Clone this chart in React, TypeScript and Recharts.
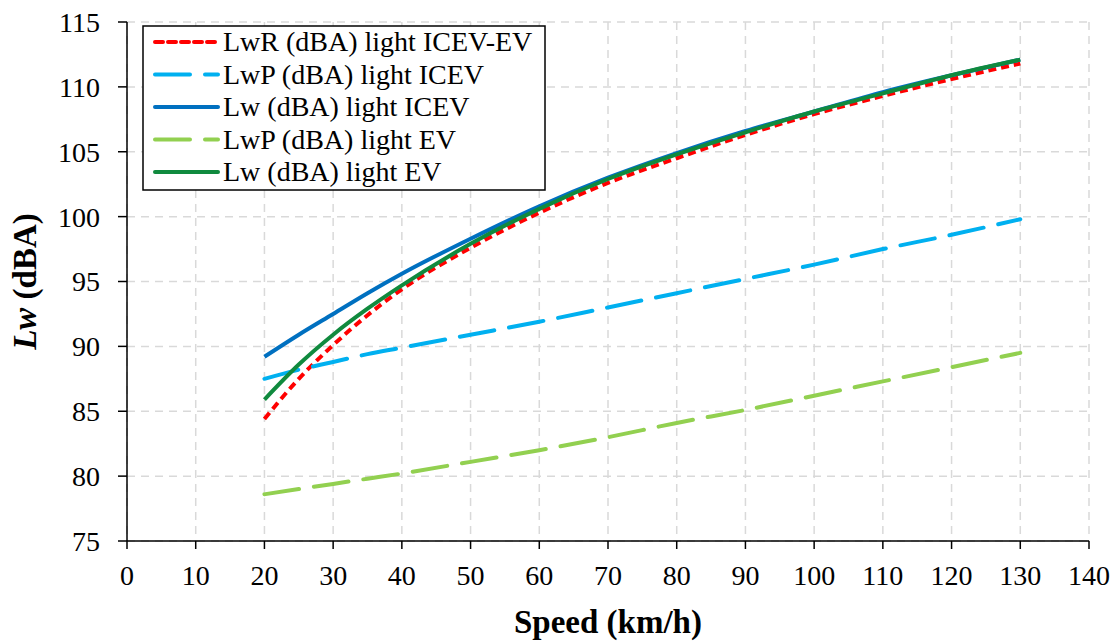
import { LineChart, Line, XAxis, YAxis, CartesianGrid, Label } from "recharts";

const speeds = [20, 25, 30, 35, 40, 50, 60, 70, 80, 90, 100, 110, 120, 130];
const lwrIcevEv = [84.4, 87.5, 90.1, 92.4, 94.4, 97.6, 100.3, 102.6, 104.5, 106.3, 107.9, 109.3, 110.6, 111.8];
const lwpIcev = [87.5, 88.2, 88.8, 89.4, 89.9, 90.9, 91.9, 93.0, 94.1, 95.2, 96.3, 97.5, 98.6, 99.8];
const lwIcev = [89.2, 90.9, 92.5, 94.1, 95.6, 98.3, 100.8, 103.0, 104.9, 106.6, 108.1, 109.6, 110.9, 112.1];
const lwpEv = [78.6, 79.0, 79.4, 79.8, 80.2, 81.1, 82.0, 83.0, 84.1, 85.1, 86.2, 87.3, 88.4, 89.5];
const lwEv = [85.9, 88.6, 90.9, 92.9, 94.7, 97.9, 100.6, 102.9, 104.8, 106.5, 108.1, 109.5, 110.9, 112.1];

const xTicks = [0, 10, 20, 30, 40, 50, 60, 70, 80, 90, 100, 110, 120, 130, 140];
const yTicks = [75, 80, 85, 90, 95, 100, 105, 110, 115];

const data = speeds.map((s, i) => ({
  speed: s,
  lwr: lwrIcevEv[i],
  lwpIcev: lwpIcev[i],
  lwIcev: lwIcev[i],
  lwpEv: lwpEv[i],
  lwEv: lwEv[i],
}));

const FONT = "'Liberation Serif', 'Times New Roman', serif";

const legendItems = [
  { label: "LwR (dBA) light ICEV-EV", color: "#ff0000", dash: "8 5" },
  { label: "LwP (dBA) light ICEV", color: "#00b0f0", dash: "35 15" },
  { label: "Lw (dBA) light ICEV", color: "#0070c0", dash: undefined },
  { label: "LwP (dBA) light EV", color: "#92d050", dash: "35 15" },
  { label: "Lw (dBA) light EV", color: "#108a3e", dash: undefined },
];

function LegendBox() {
  return (
    <svg width={404} height={166} style={{ display: "block" }}>
      <rect x={1} y={1} width={402} height={164} fill="#fff" stroke="#000" strokeWidth={1.5} />
      {legendItems.map((it, i) => {
        const y = 17 + i * 32.5;
        return (
          <g key={it.label}>
            <line x1={13} x2={76} y1={y} y2={y} stroke={it.color} strokeWidth={4} strokeDasharray={it.dash} strokeLinecap="round" />
            <text x={81} y={y + 9} fontFamily={FONT} fontSize={28} fill="#000">
              {it.label}
            </text>
          </g>
        );
      })}
    </svg>
  );
}

function YTitle(props: any) {
  const vb = props.viewBox || {};
  const cx = 25;
  const cy = vb.y + vb.height / 2;
  return (
    <text
      x={cx}
      y={cy}
      transform={`rotate(-90 ${cx} ${cy})`}
      textAnchor="middle"
      dominantBaseline="central"
      fontFamily={FONT}
      fontSize={33}
      fontWeight="bold"
      fill="#000"
    >
      <tspan fontStyle="italic">Lw</tspan>
      <tspan> (dBA)</tspan>
    </text>
  );
}

export default function App() {
  return (
    <div style={{ position: "absolute", left: 0, top: 0, width: 1119, height: 643, background: "#fff" }}>
      <LineChart width={1119} height={643} data={data} margin={{ top: 22, right: 30, bottom: 0, left: 27 }}>
        <CartesianGrid stroke="#d9d9d9" strokeWidth={1.5} strokeDasharray="8 6" />
        <XAxis
          dataKey="speed"
          type="number"
          domain={[0, 140]}
          ticks={xTicks}
          interval={0}
          stroke="#000"
          strokeWidth={1.5}
          tickSize={8}
          tick={{ fill: "#000", fontSize: 28, fontFamily: FONT }}
          tickMargin={16}
          height={102}
        >
          <Label
            value="Speed (km/h)"
            position="insideBottom"
            offset={10}
            style={{ fill: "#000", fontSize: 33, fontWeight: "bold", fontFamily: FONT }}
          />
        </XAxis>
        <YAxis
          type="number"
          domain={[75, 115]}
          ticks={yTicks}
          interval={0}
          stroke="#000"
          strokeWidth={1.5}
          tickSize={9}
          tickMargin={18}
          tick={{ fill: "#000", fontSize: 28, fontFamily: FONT }}
          width={100}
          label={<YTitle />}
        />
        <Line dataKey="lwr" type="monotone" stroke="#ff0000" strokeWidth={4} strokeDasharray="8 5" dot={false} isAnimationActive={false} />
        <Line dataKey="lwpIcev" type="monotone" stroke="#00b0f0" strokeWidth={4} strokeDasharray="35 15" strokeLinecap="round" dot={false} isAnimationActive={false} />
        <Line dataKey="lwIcev" type="monotone" stroke="#0070c0" strokeWidth={4} dot={false} isAnimationActive={false} />
        <Line dataKey="lwpEv" type="monotone" stroke="#92d050" strokeWidth={4} strokeDasharray="35 15" strokeLinecap="round" dot={false} isAnimationActive={false} />
        <Line dataKey="lwEv" type="monotone" stroke="#108a3e" strokeWidth={4} dot={false} isAnimationActive={false} />
      </LineChart>
      <div style={{ position: "absolute", left: 142, top: 25 }}>
        <LegendBox />
      </div>
    </div>
  );
}
